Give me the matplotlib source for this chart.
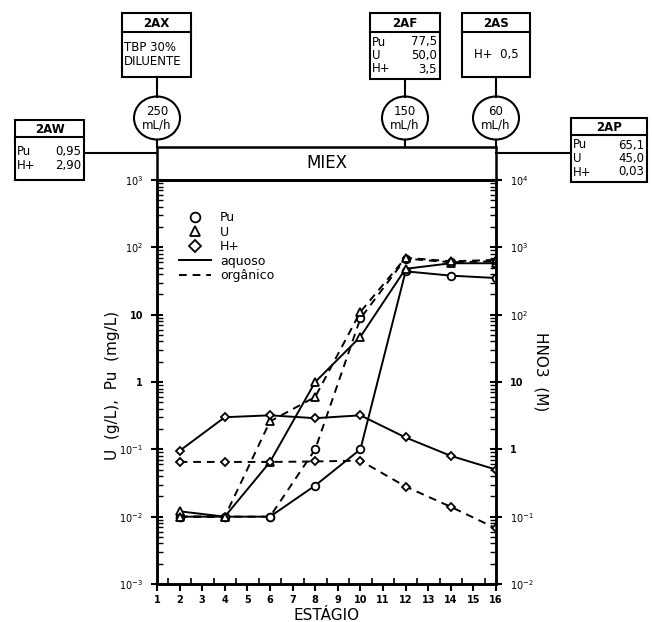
import numpy as np
import matplotlib.pyplot as plt
from matplotlib.patches import Rectangle, Ellipse
from matplotlib.lines import Line2D
from matplotlib.ticker import FixedLocator, LogLocator, NullFormatter

plt.rcParams['font.family'] = ['DejaVu Sans']

# stages (estágio) where samples were taken
stages = [2, 4, 6, 8, 10, 12, 14, 16]

# U in g/L, Pu in mg/L (left axis)
pu_aq = [0.01, 0.01, 0.01, 0.029, 0.10, 44, 38, 35]
pu_org = [0.01, 0.01, 0.01, 0.10, 8.8, 68, 60, 62]
u_aq = [0.012, 0.01, 0.065, 1.0, 4.7, 48, 58, 58]
u_org = [0.01, 0.01, 0.26, 0.60, 11, 70, 62, 65]

# HNO3 in M (right axis)
h_aq = [0.95, 3.0, 3.2, 2.9, 3.2, 1.5, 0.8, 0.5]
h_org = [0.65, 0.65, 0.65, 0.66, 0.68, 0.28, 0.14, 0.067]

left_ticks = [1e-3, 1e-2, 1e-1, 1, 10, 1e2, 1e3]
left_labels = ['$10^{-3}$', '$10^{-2}$', '$10^{-1}$', '1', '10', '$10^{2}$', '$10^{3}$']
right_ticks = [1e-2, 1e-1, 1, 10, 1e2, 1e3, 1e4]
right_labels = ['$10^{-2}$', '$10^{-1}$', '1', '10', '$10^{2}$', '$10^{3}$', '$10^{4}$']

# feed / product streams of the flowsheet
streams = {
    '2AW': [('Pu', '0,95'), ('H+', '2,90')],
    '2AX': [('TBP 30%', ''), ('DILUENTE', '')],
    '2AF': [('Pu', '77,5'), ('U', '50,0'), ('H+', '3,5')],
    '2AS': [('H+  0,5', '')],
    '2AP': [('Pu', '65,1'), ('U', '45,0'), ('H+', '0,03')],
}
flows = ['250', '150', '60']

W, H = 652, 622
L, R, T, B = 157, 496, 180, 584

fig = plt.figure(figsize=(W / 100, H / 100), dpi=100)

# overlay in pixel coordinates for the flowsheet drawing
ov = fig.add_axes([0, 0, 1, 1], zorder=0)
ov.set_xlim(0, W)
ov.set_ylim(H, 0)
ov.axis('off')

ax = fig.add_axes([L / W, 1 - B / H, (R - L) / W, (B - T) / H], zorder=2)
ax.patch.set_alpha(0)
ax.set_xlim(1, 16)
ax.set_yscale('log')
ax.set_ylim(1e-3, 1e3)
ax2 = ax.twinx()
ax2.set_yscale('log')
ax2.set_ylim(1e-2, 1e4)

lw = 1.4
mk = dict(mfc='white', mec='black', mew=1.3, ms=5.5)
ax.plot(stages, pu_aq, '-', color='k', lw=lw, marker='o', **mk)
ax.plot(stages, pu_org, '--', color='k', lw=lw, marker='o', dashes=(4, 3), **mk)
ax.plot(stages, u_aq, '-', color='k', lw=lw, marker='^', **mk)
ax.plot(stages, u_org, '--', color='k', lw=lw, marker='^', dashes=(4, 3), **mk)
ax2.plot(stages, h_aq, '-', color='k', lw=lw, marker='D', **dict(mk, ms=4.5))
ax2.plot(stages, h_org, '--', color='k', lw=lw, marker='D', dashes=(4, 3), **dict(mk, ms=4.5))

for s in ax.spines.values():
    s.set_linewidth(1.8)
for s in ax2.spines.values():
    s.set_linewidth(1.8)

ax.set_xticks(range(1, 17))
ax.set_xticklabels([str(i) for i in range(1, 17)], fontsize=7, fontweight='bold')
ax.xaxis.set_minor_locator(FixedLocator(np.arange(1.5, 16, 1)))
ax.tick_params(axis='x', which='major', direction='out', length=5, width=1.5, pad=3)
ax.tick_params(axis='x', which='minor', direction='in', length=4, width=1.2)
ax.tick_params(axis='x', top=False, which='both')

ax.set_yticks(left_ticks)
ax.set_yticklabels(left_labels, fontsize=7, fontweight='bold')
ax.yaxis.set_minor_locator(LogLocator(base=10, subs=np.arange(2, 10), numticks=20))
ax.yaxis.set_minor_formatter(NullFormatter())
ax.tick_params(axis='y', which='major', direction='inout', length=8, width=1.5, pad=6)
ax.tick_params(axis='y', which='minor', direction='in', length=4, width=1.0)

ax2.set_yticks(right_ticks)
ax2.set_yticklabels(right_labels, fontsize=7, fontweight='bold')
ax2.yaxis.set_minor_locator(LogLocator(base=10, subs=np.arange(2, 10), numticks=20))
ax2.yaxis.set_minor_formatter(NullFormatter())
ax2.tick_params(axis='y', which='major', direction='inout', length=8, width=1.5, pad=6)
ax2.tick_params(axis='y', which='minor', direction='in', length=4, width=1.0)

ax.set_xlabel('ESTÁGIO', fontsize=11, labelpad=2)
fig.text(113 / W, 1 - 385 / H, 'U  (g/L),  Pu  (mg/L)', rotation=90,
         ha='center', va='center', fontsize=11)
fig.text(541 / W, 1 - 372 / H, 'HNO3  (M)', rotation=270,
         ha='center', va='center', fontsize=11)

# legend
handles = [
    Line2D([], [], ls='none', marker='o', **dict(mk, ms=7)),
    Line2D([], [], ls='none', marker='^', **dict(mk, ms=7)),
    Line2D([], [], ls='none', marker='D', **dict(mk, ms=6)),
    Line2D([], [], ls='-', color='k', lw=lw),
    Line2D([], [], ls='--', color='k', lw=lw, dashes=(4, 3)),
]
ax.legend(handles, ['Pu', 'U', 'H+', 'aquoso', 'orgânico'], loc='upper left',
          bbox_to_anchor=(0.05, 0.935), frameon=False, fontsize=9,
          handlelength=2.6, labelspacing=0.12, handletextpad=0.7, borderaxespad=0)

# ---- flowsheet above the plot ----
box_lw = 1.5

def stream_box(name, x0, x1, y0, y1, ydiv, rows, center=False):
    ov.add_patch(Rectangle((x0, y0), x1 - x0, y1 - y0, fill=False, lw=box_lw, ec='k'))
    ov.plot([x0, x1], [ydiv, ydiv], color='k', lw=box_lw)
    ov.text((x0 + x1) / 2, (y0 + ydiv) / 2 + 1, name, ha='center', va='center',
            fontsize=8.5, fontweight='bold')
    n = len(rows)
    step = 13.5
    ystart = (ydiv + y1) / 2 - step * (n - 1) / 2
    for i, (lab, val) in enumerate(rows):
        yy = ystart + i * step
        if center:
            ov.text((x0 + x1) / 2, yy, lab, ha='center', va='center', fontsize=8.5)
        else:
            ov.text(x0 + 2, yy, lab, ha='left', va='center', fontsize=8.5)
            if val:
                ov.text(x1 - 3, yy, val, ha='right', va='center', fontsize=8.5)

stream_box('2AW', 15, 84, 120, 180, 137, streams['2AW'])
stream_box('2AX', 122, 191, 13, 77, 32, streams['2AX'])
stream_box('2AF', 370, 440, 13, 79, 32, streams['2AF'])
stream_box('2AS', 462, 530, 13, 77, 32, streams['2AS'], center=True)
stream_box('2AP', 571, 647, 118, 182, 135, streams['2AP'])

# flow circles and connecting lines
for xc, q, ytop in zip([157, 405, 496], flows, [77, 79, 77]):
    ov.add_patch(Ellipse((xc, 118), 46, 43, fill=False, lw=box_lw, ec='k'))
    ov.text(xc, 118, q + '\nmL/h', ha='center', va='center', fontsize=8.5,
            linespacing=1.0)
    ov.plot([xc, xc], [ytop, 96.5], color='k', lw=box_lw)
    ov.plot([xc, xc], [139.5, 147], color='k', lw=box_lw)

# MIEX box
ov.add_patch(Rectangle((L, 147), R - L, T - 147, fill=False, lw=1.8, ec='k'))
ov.text((L + R) / 2, 163, 'MIEX', ha='center', va='center', fontsize=12)
ov.plot([84, L], [153, 153], color='k', lw=box_lw)
ov.plot([R, 571], [153, 153], color='k', lw=box_lw)

fig.savefig('out.png', dpi=100)
